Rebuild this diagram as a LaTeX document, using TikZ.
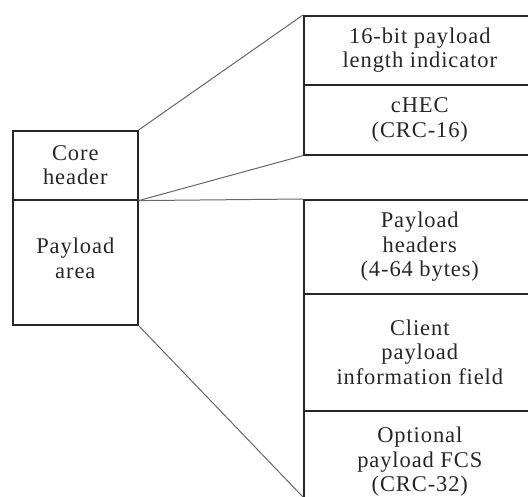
\documentclass[tikz,border=0pt]{standalone}
\usepackage{fontspec}
\setmainfont{Liberation Serif}[LetterSpace=4]
\begin{document}
\begin{tikzpicture}[x=1pt,y=-1pt,
  field/.style={draw=black!85, line width=1.6pt, rectangle, anchor=north west,
    align=center, inner sep=0pt, text=black!85,
    font=\fontsize{22.5}{24.5}\selectfont},
  fieldtext/.style={align=center, inner sep=0pt, text=black!85,
    font=\fontsize{22.5}{24.5}\selectfont},
  link/.style={draw=black!60, line width=1pt}]
\useasboundingbox (0,0) rectangle (528,497);
\clip (0,0) rectangle (528,497);

% left frame: core header and payload area
\node[field, minimum width=125pt, minimum height=69pt] (core) at (12,130) {Core\\header};
\node[field, minimum width=125pt, minimum height=125pt] (pay) at (12,199) {};
\node[fieldtext] (paytext) at ([yshift=4pt]pay.center) {Payload\\area};

% expanded core header
\node[field, minimum width=232pt, minimum height=69pt] (pli) at (303,15) {16-bit payload\\length indicator};
\node[field, minimum width=232pt, minimum height=70pt] (chec) at (303,84) {cHEC\\(CRC-16)};

% expanded payload area
\node[field, minimum width=232pt, minimum height=94pt] (phdr) at (303,199) {Payload\\headers\\(4-64 bytes)};
\node[field, minimum width=232pt, minimum height=117pt] (cpif) at (303,293) {Client\\payload\\information field};
\node[field, minimum width=232pt, minimum height=102pt] (fcs) at (303,410) {Optional\\payload FCS\\(CRC-32)};

% zoom lines
\coordinate (cut) at (303,497);
\draw[link] (core.north east) -- (pli.north west);
\draw[link] (core.south east) -- (chec.south west);
\draw[link] (core.south east) -- (phdr.north west);
\draw[link] (pay.south east) -- (cut);
\end{tikzpicture}
\end{document}
